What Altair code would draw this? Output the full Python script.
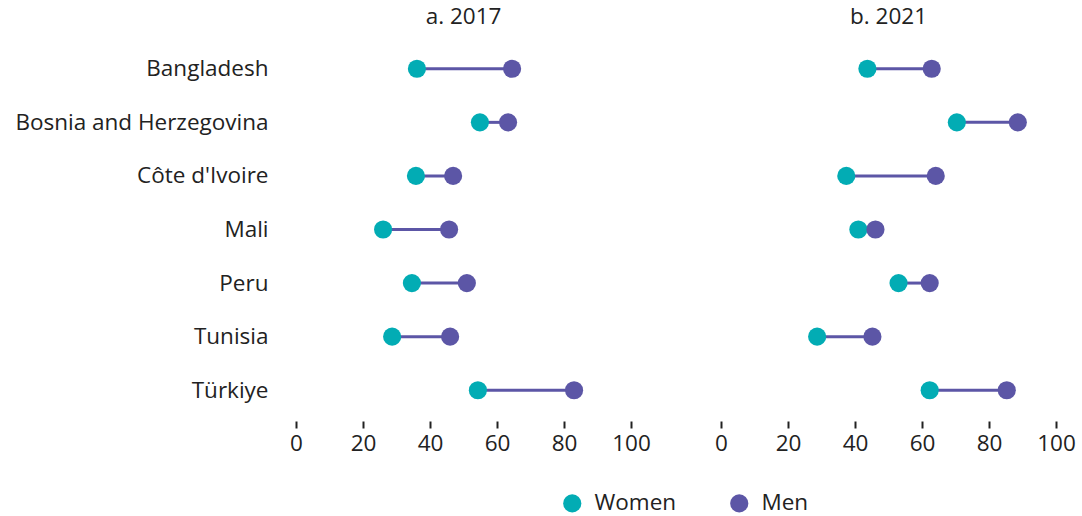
import altair as alt
import pandas as pd

countries = ["Bangladesh", "Bosnia and Herzegovina", "Côte d'Ivoire", "Mali",
             "Peru", "Tunisia", "Türkiye"]
panels = ["a. 2017", "b. 2021"]

women_2017 = [36.1, 54.9, 35.8, 26.0, 34.6, 28.7, 54.3]
men_2017 = [64.5, 63.3, 46.9, 45.7, 51.0, 46.0, 83.0]
women_2021 = [43.7, 70.4, 37.4, 41.0, 53.0, 28.7, 62.3]
men_2021 = [62.9, 88.6, 64.1, 46.1, 62.3, 45.2, 85.3]

x_ticks = [0, 20, 40, 60, 80, 100]
TEAL = "#02ACB4"
PURPLE = "#5C56A6"
FONT = "Open Sans"
FS = 22.5
INK = "#222222"

rows = []
for panel, w_vals, m_vals in [(panels[0], women_2017, men_2017),
                              (panels[1], women_2021, men_2021)]:
    for c, w, m in zip(countries, w_vals, m_vals):
        rows.append({"panel": panel, "country": c, "Women": w, "Men": m})
df = pd.DataFrame(rows)

y_enc = alt.Y("country:N", sort=countries, title=None,
              scale=alt.Scale(type="point", padding=0.5))

rule = alt.Chart().mark_rule(color=PURPLE, strokeWidth=3).encode(
    y=y_enc,
    x=alt.X("Women:Q"),
    x2="Men:Q",
)

points = alt.Chart().transform_fold(
    ["Women", "Men"], as_=["gender", "value"]
).mark_circle(size=330, opacity=1).encode(
    y=y_enc,
    x=alt.X("value:Q", title=None,
            scale=alt.Scale(domain=[0, 100], nice=False),
            axis=alt.Axis(values=x_ticks)),
    color=alt.Color("gender:N",
                    scale=alt.Scale(domain=["Women", "Men"], range=[TEAL, PURPLE]),
                    legend=alt.Legend(title=None, orient="none", direction="horizontal",
                                      legendX=265, legendY=450,
                                      symbolSize=330, symbolType="circle",
                                      labelFontSize=FS, labelFont=FONT, labelColor=INK,
                                      columnPadding=51, labelOffset=11)),
)

chart = alt.layer(rule, points, data=df).properties(
    width=335, height=375
).facet(
    column=alt.Column("panel:N", title=None, sort=panels,
                      header=alt.Header(labelFontSize=FS, labelFont=FONT,
                                        labelColor=INK, labelPadding=14)),
    spacing=90,
).configure_view(stroke=None).configure_axisX(
    domain=False, grid=False, ticks=True, tickColor=INK, tickWidth=2, tickSize=7,
    offset=4, labelFontSize=FS, labelFont=FONT, labelColor=INK, labelPadding=4,
    labelFlush=False,
).configure_axisY(
    domain=False, grid=False, ticks=False, labelFontSize=FS, labelFont=FONT,
    labelColor=INK, labelPadding=28, labelLimit=400, minExtent=291, maxExtent=291,
).properties(padding={"left": 5, "top": 5, "right": 5, "bottom": 0})

chart.save("out.html", embed_options={"renderer": "svg", "actions": False})
